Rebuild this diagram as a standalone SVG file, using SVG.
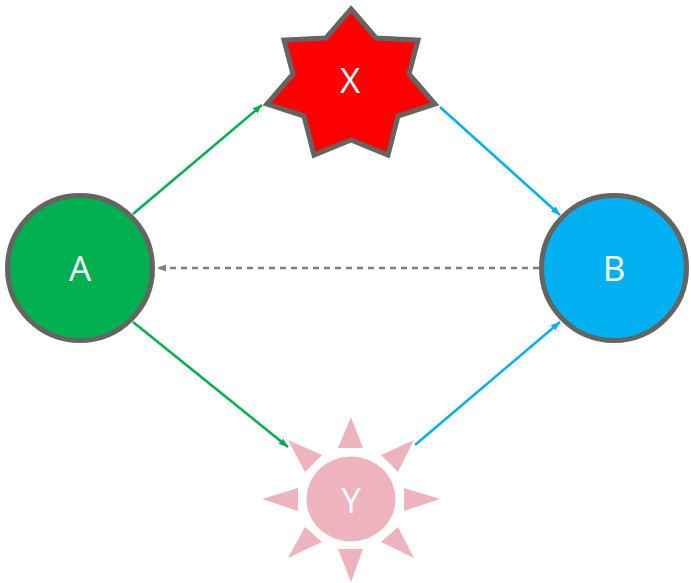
<svg xmlns="http://www.w3.org/2000/svg" width="691" height="583" viewBox="0 0 691 583">
<style>
.lbl{font-family:"Open Sans","Liberation Sans",sans-serif;font-size:35px;fill:#fff;text-anchor:middle}
.node{stroke:#646460;stroke-width:5}
.conn{fill:none;stroke-width:2.5}
</style>
<defs>
<marker id="ag" markerUnits="userSpaceOnUse" markerWidth="10" markerHeight="8" refX="9" refY="3.5" orient="auto"><path d="M0,0 L9,3.5 L0,7 z" fill="#00B050"/></marker>
<marker id="ab" markerUnits="userSpaceOnUse" markerWidth="10" markerHeight="8" refX="9" refY="3.5" orient="auto"><path d="M0,0 L9,3.5 L0,7 z" fill="#00B0F0"/></marker>
<marker id="ay" markerUnits="userSpaceOnUse" markerWidth="10" markerHeight="8" refX="9" refY="3.5" orient="auto"><path d="M0,0 L9,3.5 L0,7 z" fill="#7F7F7F"/></marker>
</defs>
<rect width="691" height="583" fill="#fff"/>
<g id="connectors">
<line class="conn" x1="133" y1="214" x2="262" y2="105" stroke="#00B050" marker-end="url(#ag)"/>
<line class="conn" x1="133" y1="322" x2="288" y2="447" stroke="#00B050" marker-end="url(#ag)"/>
<line class="conn" x1="440" y1="107" x2="560" y2="215" stroke="#00B0F0" marker-end="url(#ab)"/>
<line class="conn" x1="415" y1="445" x2="560" y2="322" stroke="#00B0F0" marker-end="url(#ab)"/>
<line class="conn" x1="539" y1="268" x2="157" y2="268" stroke="#7F7F7F" stroke-width="3" stroke-dasharray="6,5" marker-end="url(#ay)"/>
</g>
<g id="node-X">
<path class="node" fill="#FF0000" stroke-linejoin="miter" d="M351,9 L376,38 L418,40 L409,74 L435,104 L398,116 L388,155 L351,140 L314,155 L304,116 L267,104 L293,74 L284,40 L326,38 Z"/>
<text class="lbl" x="350" y="93">X</text>
</g>
<g id="node-A">
<circle class="node" cx="80" cy="268" r="72.5" fill="#00B050"/>
<text class="lbl" x="80" y="281">A</text>
</g>
<g id="node-B">
<circle class="node" cx="614" cy="268" r="72.5" fill="#00B0F0"/>
<text class="lbl" x="614" y="281">B</text>
</g>
<g id="node-Y" fill="#EDB4BE">
<ellipse cx="351" cy="499" rx="44.5" ry="42.5"/>
<path d="M351,417 L363,448 L338,448 Z"/>
<path d="M351,582 L363,549 L338,549 Z"/>
<path d="M262,499 L298,488 L298,511 Z"/>
<path d="M440,499 L404,488 L404,511 Z"/>
<path d="M288,440 L322,455 L305,472 Z"/>
<path d="M414,440 L381,455 L398,472 Z"/>
<path d="M288,558 L305,527 L322,542 Z"/>
<path d="M414,558 L398,527 L381,542 Z"/>
<text class="lbl" x="351" y="513">Y</text>
</g>
</svg>
